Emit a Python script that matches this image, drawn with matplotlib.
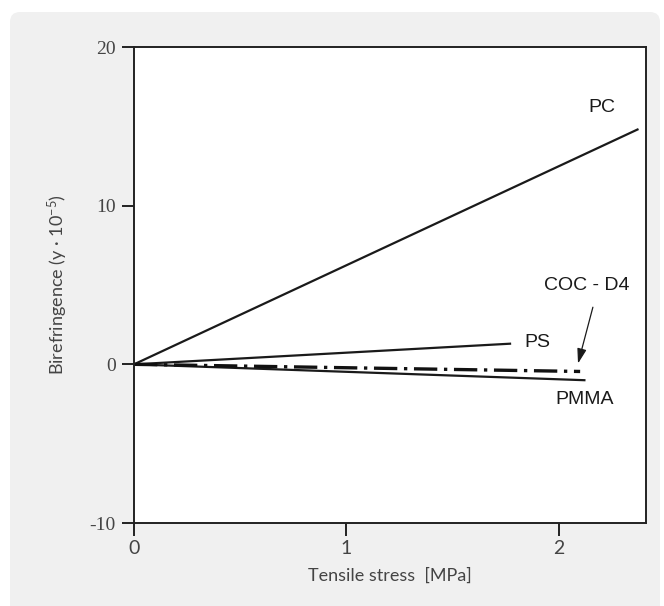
#!/usr/bin/env python3
"""
Birefringence vs tensile stress for PC, PS, COC-D4 and PMMA.
"""

import matplotlib
matplotlib.use("Agg")
import matplotlib.pyplot as plt
from matplotlib.patches import FancyBboxPatch

# data (MPa, birefringence x 1e-5)
stress_pc = [0.0, 2.37]
bire_pc = [0.0, 14.8]
stress_ps = [0.0, 1.77]
bire_ps = [0.0, 1.3]
stress_coc = [0.0, 2.10]
bire_coc = [0.0, -0.45]
stress_pmma = [0.0, 2.12]
bire_pmma = [0.0, -1.0]

x_ticks = [0, 1, 2]
y_ticks = [-10, 0, 10, 20]


def main():
    plt.rcParams["mathtext.fontset"] = "custom"
    plt.rcParams["mathtext.rm"] = "Lato"
    plt.rcParams["mathtext.it"] = "Lato:italic"
    plt.rcParams["axes.unicode_minus"] = False

    fig = plt.figure(figsize=(6.64, 6.06), dpi=100, facecolor="white")
    # light grey panel behind the chart (rounded corner, runs off bottom)
    fig.add_artist(FancyBboxPatch((10, -20), 650, 614,
                                  boxstyle="round,pad=0,rounding_size=10",
                                  transform=None, facecolor="#f0f0f0",
                                  edgecolor="none", zorder=-10))

    ax = fig.add_axes([134 / 664, 1 - 523 / 606, (646 - 134) / 664, (523 - 47) / 606])
    ax.set_zorder(1)
    ax.set_facecolor("white")

    ax.plot(stress_pc, bire_pc, color="#1a1a1a", lw=1.6)
    ax.plot(stress_ps, bire_ps, color="#1a1a1a", lw=1.6)
    ax.plot(stress_pmma, bire_pmma, color="#1a1a1a", lw=1.6)
    ax.plot(stress_coc, bire_coc, color="#111111", lw=2.4, linestyle=(0, (7, 2, 1, 2)))

    txt = dict(fontsize=14, family="Liberation Sans", color="#1a1a1a", ha="center", va="center")
    ax.text(2.20, 16.2, "PC", **txt)
    ax.text(1.90, 1.35, "PS", **txt)
    ax.text(2.13, 5.0, "COC - D4", **txt)
    ax.text(2.12, -2.2, "PMMA", **txt)
    ax.annotate("", xy=(2.09, 0.05), xytext=(2.16, 3.6),
                arrowprops=dict(arrowstyle="-|>,head_length=0.9,head_width=0.28",
                                color="#1a1a1a", lw=0.9, shrinkA=0, shrinkB=0))

    ax.set_xlim(0, 2.41)
    ax.set_ylim(-10, 20)
    ax.set_xticks(x_ticks)
    ax.set_yticks(y_ticks)
    ax.tick_params(direction="out", length=9, width=1.4, color="#222222")
    ax.tick_params(axis="x", labelsize=14, labelcolor="#444444", pad=3)
    ax.tick_params(axis="y", labelsize=14, labelcolor="#444444", pad=4)
    for lab in ax.get_xticklabels():
        lab.set_family("Lato")
    for lab in ax.get_yticklabels():
        lab.set_family("Liberation Serif")
    for sp in ax.spines.values():
        sp.set_linewidth(1.4)
        sp.set_color("#222222")

    ax.set_xlabel("Tensile stress  [MPa]", fontsize=13, family="Lato", color="#444444", labelpad=8)
    ax.set_ylabel(r"Birefringence (y · 10$^{-5}$)", fontsize=13, family="Lato",
                  color="#444444", labelpad=14)

    fig.savefig("out.png", dpi=100, facecolor=fig.get_facecolor())


if __name__ == "__main__":
    main()
